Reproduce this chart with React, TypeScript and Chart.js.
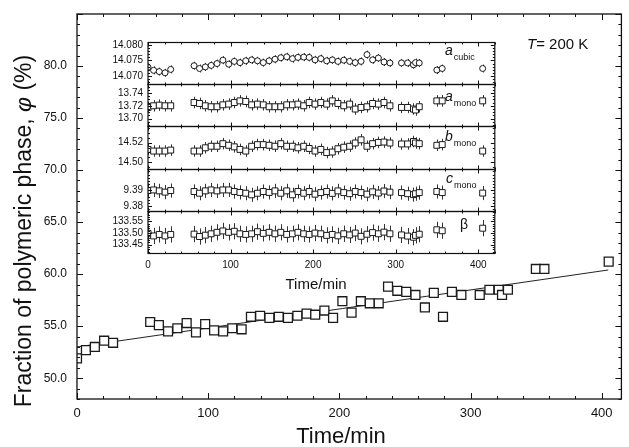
import React, { useEffect, useRef } from 'react';
import { Chart, registerables } from 'chart.js';
Chart.register(...registerables);

const FONT = '"Liberation Sans", Arial, Helvetica, sans-serif';

// ---------- main chart data ----------
const times = [0, 6.8, 13.6, 20.7, 27.5, 55.8, 62.4, 69.4, 76.5, 83.6, 90.7, 97.7, 104.5, 111.4, 118.4,
  125.5, 132.6, 139.6, 146.7, 153.8, 160.8, 168, 175, 181.6, 188.6, 195.2, 202.3, 209.3, 216.4, 223.2,
  230, 237.1, 244.2, 251, 258, 265.2, 272, 279, 285.8, 293, 307, 314.4, 321.5, 324, 328.5, 349.8, 356.3, 405.3];
const phi = [51.9, 52.7, 53.0, 53.6, 53.4, 55.4, 55.1, 54.5, 54.8, 55.3, 54.4, 55.2, 54.6, 54.5, 54.8,
  54.7, 55.9, 56.0, 55.8, 55.9, 55.8, 56.0, 56.2, 56.1, 56.5, 55.8, 57.4, 56.3, 57.4, 57.2,
  57.2, 58.8, 58.4, 58.3, 58.0, 56.8, 58.2, 55.9, 58.3, 58.0, 58.0, 58.5, 58.5, 58.0, 58.5, 60.5, 60.5, 61.2];
const fitTimes = [0, 405];
const fitPhi = [53.0, 60.4];
const mainXTicks = [0, 100, 200, 300, 400];
const mainYTicks = [50, 55, 60, 65, 70, 75, 80];

// ---------- inset data (lattice parameters) ----------
const aCubic = [14.0728, 14.0718, 14.0714, 14.0710, 14.0721,
  14.0733, 14.0724, 14.0729, 14.0734, 14.0740, 14.0751, 14.0738, 14.0747, 14.0743, 14.0749, 14.0752,
  14.0749, 14.0743, 14.0749, 14.0754, 14.0759, 14.0762, 14.0756, 14.0760, 14.0761, 14.0760, 14.0752,
  14.0756, 14.0749, 14.0752, 14.0747, 14.0751, 14.0747, 14.0743, 14.0747, 14.0769, 14.0752, 14.0758, 14.0745, 14.0742,
  14.0742, 14.0742, 14.0736, 14.0743, 14.0742,
  14.0719, 14.0724, 14.0724];
const aMono = [13.7174, 13.7200, 13.7210, 13.7200, 13.7200,
  13.7251, 13.7236, 13.7200, 13.7185, 13.7185, 13.7215, 13.7226, 13.7251, 13.7277, 13.7267, 13.7215,
  13.7226, 13.7215, 13.7185, 13.7185, 13.7185, 13.7215, 13.7215, 13.7226, 13.7200, 13.7251, 13.7226,
  13.7251, 13.7226, 13.7277, 13.7236, 13.7200, 13.7226, 13.7149, 13.7174, 13.7185, 13.7236, 13.7226, 13.7251, 13.7200,
  13.7174, 13.7174, 13.7149, 13.7134, 13.7185,
  13.7277, 13.7277, 13.7277];
const bMono = [14.5130, 14.5113, 14.5113, 14.5113, 14.5123,
  14.5113, 14.5113, 14.5147, 14.5163, 14.5163, 14.5190, 14.5173, 14.5157, 14.5130, 14.5113, 14.5163,
  14.5180, 14.5180, 14.5173, 14.5163, 14.5190, 14.5163, 14.5163, 14.5147, 14.5163, 14.5140, 14.5113,
  14.5130, 14.5097, 14.5103, 14.5137, 14.5153, 14.5163, 14.5197, 14.5230, 14.5163, 14.5190, 14.5203, 14.5207, 14.5197,
  14.5187, 14.5187, 14.5213, 14.5197, 14.5190,
  14.5173, 14.5180, 14.5113];
const cMono = [9.3898, 9.3902, 9.3896, 9.3888, 9.3898,
  9.3892, 9.3881, 9.3896, 9.3902, 9.3896, 9.3902, 9.3902, 9.3892, 9.3886, 9.3881, 9.3871,
  9.3881, 9.3892, 9.3886, 9.3896, 9.3881, 9.3896, 9.3871, 9.3892, 9.3881, 9.3892, 9.3875,
  9.3885, 9.3892, 9.3880, 9.3896, 9.3885, 9.3878, 9.3892, 9.3885, 9.3875, 9.3890, 9.3882, 9.3895, 9.3888,
  9.3885, 9.3878, 9.3872, 9.3878, 9.3885,
  9.3892, 9.3885, 9.3882];
const beta = [133.4986, 133.4877, 133.4941, 133.4877, 133.4941,
  133.4955, 133.4850, 133.4909, 133.4968, 133.5032, 133.5091, 133.5032, 133.5077, 133.4968, 133.4941, 133.4968,
  133.5059, 133.4986, 133.5032, 133.4968, 133.5032, 133.4941, 133.4968, 133.5032, 133.4968, 133.4941, 133.5000,
  133.4970, 133.4900, 133.4940, 133.4880, 133.4970, 133.4920, 133.5000, 133.4860, 133.4950, 133.5020, 133.4970, 133.5040, 133.4970,
  133.4920, 133.4870, 133.4820, 133.4900, 133.4950,
  133.5140, 133.5100, 133.5210];
const aCubicErr = 0.0013;
const aMonoErr = 0.009;
const bMonoErr = 0.006;
const cMonoErr = 0.0045;
const betaErr = 0.035;

const insetXTicks = [0, 100, 200, 300, 400];
const aCubicTicks = [14.070, 14.075, 14.080];
const aMonoTicks = [13.70, 13.72, 13.74];
const bMonoTicks = [14.50, 14.52];
const cMonoTicks = [9.38, 9.39];
const betaTicks = [133.45, 133.50, 133.55];

const panels = [
  { id: 'y1', values: aCubic, err: aCubicErr, min: 14.0673, max: 14.0810, ticks: aCubicTicks, minor: 0.001, dec: 3, circle: true, sym: 'a', sub: 'cubic', italic: true, lx: 345, ly: 13 },
  { id: 'y2', values: aMono, err: aMonoErr, min: 13.6877, max: 13.7538, ticks: aMonoTicks, minor: 0.005, dec: 2, circle: false, sym: 'a', sub: 'mono', italic: true, lx: 345, ly: 17 },
  { id: 'y3', values: bMono, err: bMonoErr, min: 14.4930, max: 14.5370, ticks: bMonoTicks, minor: 0.005, dec: 2, circle: false, sym: 'b', sub: 'mono', italic: true, lx: 345, ly: 15 },
  { id: 'y4', values: cMono, err: cMonoErr, min: 9.3769, max: 9.4038, ticks: cMonoTicks, minor: 0.002, dec: 2, circle: false, sym: 'c', sub: 'mono', italic: true, lx: 346, ly: 14 },
  { id: 'y5', values: beta, err: betaErr, min: 133.414, max: 133.596, ticks: betaTicks, minor: 0.01, dec: 2, circle: false, sym: 'β', sub: '', italic: false, lx: 360, ly: 18 },
];

function line(ctx: any, x1: number, y1: number, x2: number, y2: number) {
  ctx.beginPath();
  ctx.moveTo(x1, y1);
  ctx.lineTo(x2, y2);
  ctx.stroke();
}

function noPad(s: any) {
  s.paddingTop = 0;
  s.paddingBottom = 0;
  s.paddingLeft = 0;
  s.paddingRight = 0;
}

const mainDecor = {
  id: 'mainDecor',
  afterDraw(chart: any) {
    const { ctx, chartArea: a, scales } = chart;
    const xs = scales.x, ys = scales.y;
    ctx.save();
    ctx.strokeStyle = '#111';
    ctx.lineWidth = 1.3;
    ctx.strokeRect(a.left, a.top, a.right - a.left, a.bottom - a.top);
    ctx.lineWidth = 1;
    for (let t = 0; t <= 415; t += 20) {
      const px = Math.round(xs.getPixelForValue(t)) + 0.5;
      const len = t % 100 === 0 ? 6 : 3;
      line(ctx, px, a.bottom, px, a.bottom - len);
      line(ctx, px, a.top, px, a.top + len);
    }
    for (let v = 48; v <= 85; v += 1) {
      const py = Math.round(ys.getPixelForValue(v)) + 0.5;
      const len = v % 5 === 0 ? 6 : 3;
      line(ctx, a.left, py, a.left + len, py);
      line(ctx, a.right, py, a.right - len, py);
    }
    ctx.fillStyle = '#111';
    // x title
    ctx.font = `22px ${FONT}`;
    ctx.textAlign = 'center';
    ctx.textBaseline = 'middle';
    ctx.fillText('Time/min', 341, 437);
    // y title (rotated, with italic phi)
    ctx.save();
    ctx.translate(25, 231);
    ctx.rotate(-Math.PI / 2);
    const p1 = 'Fraction of polymeric phase, ';
    const p2 = 'φ';
    const p3 = ' (%)';
    const fs = 23;
    ctx.font = `${fs}px ${FONT}`;
    const w1 = ctx.measureText(p1).width;
    const w3 = ctx.measureText(p3).width;
    ctx.font = `italic ${fs}px ${FONT}`;
    const w2 = ctx.measureText(p2).width;
    const total = w1 + w2 + w3;
    let x0 = -total / 2;
    ctx.textAlign = 'left';
    ctx.font = `${fs}px ${FONT}`;
    ctx.fillText(p1, x0, 0);
    x0 += w1;
    ctx.font = `italic ${fs}px ${FONT}`;
    ctx.fillText(p2, x0, 0);
    x0 += w2;
    ctx.font = `${fs}px ${FONT}`;
    ctx.fillText(p3, x0, 0);
    ctx.restore();
    // T = 200 K
    ctx.textAlign = 'left';
    ctx.textBaseline = 'middle';
    ctx.font = `italic 15px ${FONT}`;
    ctx.fillText('T', 527, 45);
    const wt = ctx.measureText('T').width;
    ctx.font = `15px ${FONT}`;
    ctx.fillText('= 200 K', 527 + wt, 45);
    ctx.restore();
  },
};

const insetDecor = {
  id: 'insetDecor',
  beforeDatasetsDraw(chart: any) {
    const { ctx, scales } = chart;
    const xs = scales.x;
    ctx.save();
    ctx.strokeStyle = '#333';
    ctx.lineWidth = 1;
    chart.data.datasets.forEach((ds: any) => {
      const ys = scales[ds.yAxisID];
      ds.data.forEach((p: any) => {
        const px = Math.round(xs.getPixelForValue(p.x)) + 0.5;
        line(ctx, px, ys.getPixelForValue(p.y - ds.errorBar), px, ys.getPixelForValue(p.y + ds.errorBar));
      });
    });
    ctx.restore();
  },
  afterDraw(chart: any) {
    const { ctx, chartArea: a, scales } = chart;
    const xs = scales.x;
    ctx.save();
    ctx.strokeStyle = '#111';
    ctx.fillStyle = '#111';
    panels.forEach((p) => {
      const s = scales[p.id];
      const top = Math.round(s.top) + 0.5;
      const bottom = Math.round(s.bottom) + 0.5;
      ctx.lineWidth = 1.2;
      ctx.strokeRect(a.left, top, a.right - a.left, bottom - top);
      ctx.lineWidth = 1;
      for (let t = 0; t <= 420; t += 20) {
        const px = Math.round(xs.getPixelForValue(t)) + 0.5;
        const len = t % 100 === 0 ? 4 : 2;
        line(ctx, px, bottom, px, bottom - len);
        line(ctx, px, top, px, top + len);
      }
      const n = Math.round((p.max - p.min) / p.minor);
      const start = Math.ceil(p.min / p.minor) * p.minor;
      for (let i = 0; i <= n + 1; i++) {
        const v = start + i * p.minor;
        if (v > p.max) break;
        const major = p.ticks.some((tv) => Math.abs(tv - v) < p.minor / 10);
        const py = Math.round(s.getPixelForValue(v)) + 0.5;
        const len = major ? 4 : 2;
        line(ctx, a.left, py, a.left + len, py);
        line(ctx, a.right, py, a.right - len, py);
      }
      // panel label
      const by = s.top + p.ly;
      ctx.textAlign = 'left';
      ctx.textBaseline = 'alphabetic';
      ctx.font = `${p.italic ? 'italic ' : ''}14px ${FONT}`;
      ctx.fillText(p.sym, p.lx, by);
      const w = ctx.measureText(p.sym).width;
      if (p.sub) {
        ctx.font = `9px ${FONT}`;
        ctx.fillText(p.sub, p.lx + w + 1, by + 5);
      }
    });
    ctx.font = `15px ${FONT}`;
    ctx.textAlign = 'center';
    ctx.textBaseline = 'middle';
    ctx.fillText('Time/min', 216, 249);
    ctx.restore();
  },
};

function mainConfig(): any {
  return {
    type: 'scatter',
    data: {
      datasets: [
        {
          data: times.map((t, i) => ({ x: t, y: phi[i] })),
          pointStyle: 'rect',
          pointRadius: 6.3,
          pointBorderWidth: 1.3,
          pointBackgroundColor: '#fff',
          pointBorderColor: '#1a1a1a',
          showLine: false,
        },
        {
          data: fitTimes.map((t, i) => ({ x: t, y: fitPhi[i] })),
          showLine: true,
          pointRadius: 0,
          borderColor: '#222',
          borderWidth: 1,
        },
      ],
    },
    options: {
      responsive: false,
      animation: false,
      events: [],
      layout: { padding: { left: 0, top: 14, right: 4, bottom: 0 } },
      plugins: { legend: { display: false }, tooltip: { enabled: false } },
      scales: {
        x: {
          type: 'linear', min: 0, max: 415,
          afterFit: (s: any) => { s.height = 48; noPad(s); },
          afterBuildTicks: (s: any) => { s.ticks = mainXTicks.map((v) => ({ value: v })); },
          grid: { display: false, drawTicks: false },
          border: { display: false },
          ticks: { padding: 7, autoSkip: false, maxRotation: 0, color: '#111', font: { family: FONT, size: 13 }, callback: (v: any) => String(v) },
        },
        y: {
          type: 'linear', min: 48, max: 85,
          afterFit: (s: any) => { s.width = 77; noPad(s); },
          afterBuildTicks: (s: any) => { s.ticks = mainYTicks.map((v) => ({ value: v })); },
          grid: { display: false, drawTicks: false },
          border: { display: false },
          ticks: { padding: 10, autoSkip: false, color: '#111', font: { family: FONT, size: 12 }, callback: (v: any) => Number(v).toFixed(1) },
        },
      },
    },
    plugins: [mainDecor],
  };
}

function insetConfig(): any {
  const scales: any = {
    x: {
      type: 'linear', min: 0, max: 420, position: 'bottom',
      afterFit: (s: any) => { s.height = 45; noPad(s); },
      afterBuildTicks: (s: any) => { s.ticks = insetXTicks.map((v) => ({ value: v })); },
      grid: { display: false, drawTicks: false },
      border: { display: false },
      ticks: { padding: 6, autoSkip: false, maxRotation: 0, color: '#111', font: { family: FONT, size: 10 }, callback: (v: any) => String(v) },
    },
  };
  panels.forEach((p, i) => {
    scales[p.id] = {
      type: 'linear', position: 'left', stack: 'inset', stackWeight: 1, weight: 10 - i,
      min: p.min, max: p.max,
      afterFit: (s: any) => { s.width = 48; noPad(s); },
      afterBuildTicks: (s: any) => { s.ticks = p.ticks.map((v) => ({ value: v })); },
      grid: { display: false, drawTicks: false },
      border: { display: false },
      ticks: { padding: 5, autoSkip: false, color: '#111', font: { family: FONT, size: 10 }, callback: (v: any) => Number(v).toFixed(p.dec === 3 ? 3 : 2) },
    };
  });
  return {
    type: 'scatter',
    data: {
      datasets: panels.map((p) => ({
        yAxisID: p.id,
        xAxisID: 'x',
        errorBar: p.err,
        data: times.map((t, i) => ({ x: t, y: p.values[i] })),
        pointStyle: p.circle ? 'circle' : 'rect',
        pointRadius: p.circle ? 3 : 4.2,
        pointBorderWidth: 1,
        pointBackgroundColor: '#fff',
        pointBorderColor: '#1a1a1a',
        showLine: false,
      })),
    },
    options: {
      responsive: false,
      animation: false,
      events: [],
      layout: { padding: { left: 0, top: 6, right: 5, bottom: 0 } },
      plugins: { legend: { display: false }, tooltip: { enabled: false } },
      scales,
    },
    plugins: [insetDecor],
  };
}

export default function App() {
  const mainRef = useRef<HTMLCanvasElement>(null);
  const insetRef = useRef<HTMLCanvasElement>(null);
  useEffect(() => {
    const main = new Chart(mainRef.current as HTMLCanvasElement, mainConfig());
    const inset = new Chart(insetRef.current as HTMLCanvasElement, insetConfig());
    return () => {
      main.destroy();
      inset.destroy();
    };
  }, []);
  return (
    <div style={{ position: 'fixed', left: 0, top: 0, width: 629, height: 447, background: '#fff', overflow: 'hidden' }}>
      <canvas ref={mainRef} width={629} height={447} style={{ position: 'absolute', left: 0, top: 0, width: 629, height: 447 }} />
      <canvas ref={insetRef} width={400} height={262} style={{ position: 'absolute', left: 100, top: 36, width: 400, height: 262 }} />
    </div>
  );
}
